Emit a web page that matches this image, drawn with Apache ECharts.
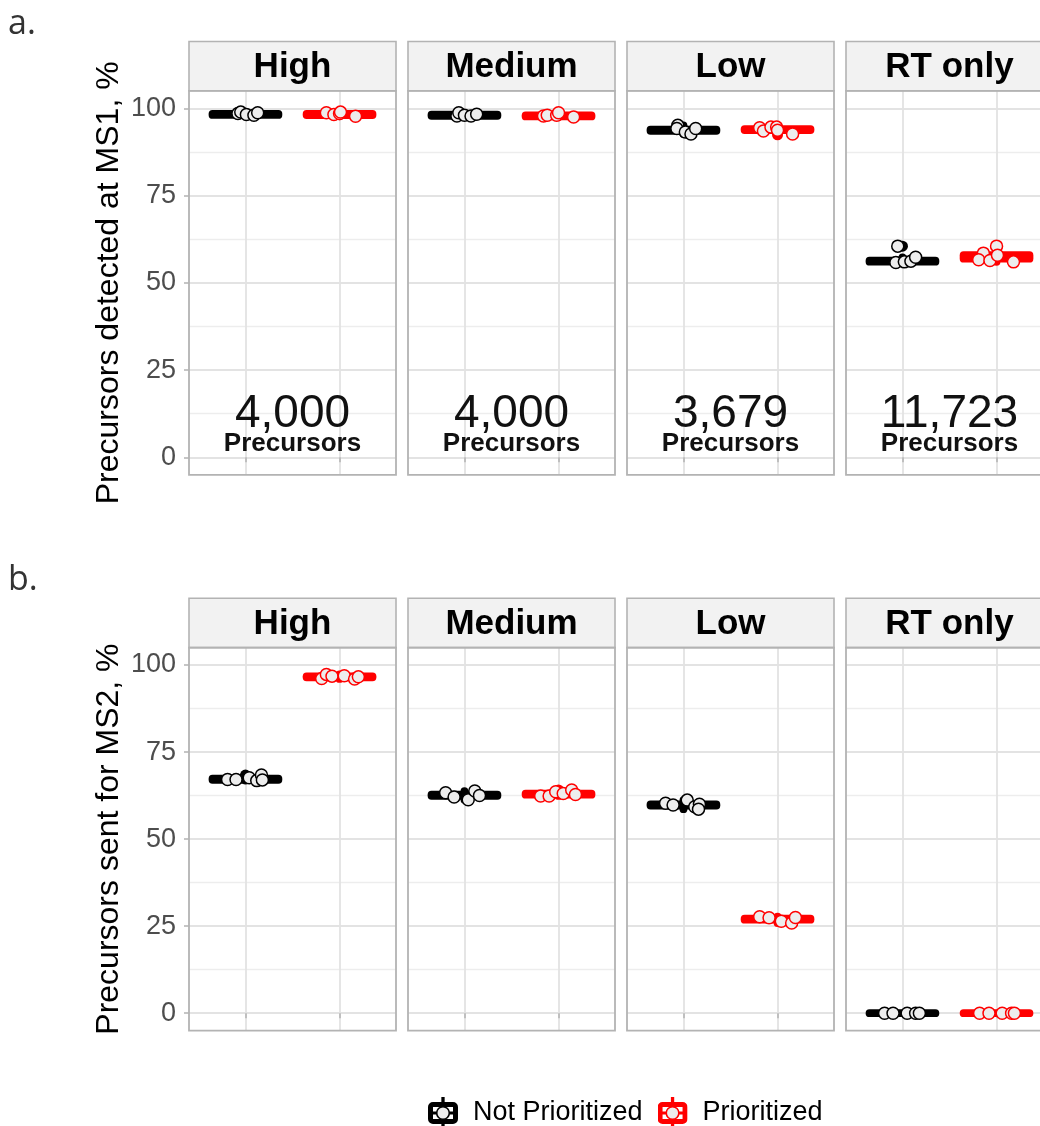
<!DOCTYPE html>
<html>
<head>
<meta charset="utf-8">
<script src="https://cdn.jsdelivr.net/npm/echarts@6.0.0/dist/echarts.min.js"></script>
<style>
html,body{margin:0;padding:0;background:#ffffff;}
#main{width:1040px;height:1126px;}
</style>
</head>
<body>
<div id="main"></div>
<script>
// ---------------- DATA ----------------
const facets = ['High', 'Medium', 'Low', 'RT only'];
const groups = ['Not Prioritized', 'Prioritized'];
const precursorCounts = ['4,000', '4,000', '3,679', '11,723'];
const precursorWord = 'Precursors';
const yTicks = [0, 25, 50, 75, 100];
const yTitles = ['Precursors detected at MS1, %', 'Precursors sent for MS2, %'];
const panelTags = ['a.', 'b.'];

// Panel a: precursors detected at MS1 (%) – replicate values per facet
const ms1NotPrioritized = [
  [98.5, 98.9, 98.2, 98.0, 98.7],
  [97.8, 98.7, 98.0, 97.8, 98.3],
  [95.1, 94.2, 93.2, 92.6, 94.2],
  [60.5, 55.8, 56.0, 56.2, 57.3]
];
const ms1NotPrioritizedJitter = [
  [-0.08, -0.05, 0.01, 0.09, 0.13],
  [-0.08, -0.06, 0.00, 0.07, 0.13],
  [-0.06, -0.07, 0.02, 0.08, 0.13],
  [-0.05, -0.07, 0.02, 0.09, 0.14]
];
const ms1Prioritized = [
  [98.7, 98.2, 98.5, 98.9, 97.7],
  [97.8, 98.0, 98.0, 98.7, 97.5],
  [94.4, 93.5, 94.6, 94.6, 93.7, 92.6],
  [58.5, 56.6, 56.4, 60.5, 57.9, 56.0]
];
const ms1PrioritizedJitter = [
  [-0.14, -0.06, 0.00, 0.01, 0.17],
  [-0.16, -0.12, -0.02, 0.00, 0.16],
  [-0.19, -0.15, -0.07, -0.01, 0.00, 0.16],
  [-0.14, -0.19, -0.07, 0.00, 0.01, 0.18]
];
// box stats: [lower whisker, Q1, median, Q3, upper whisker]
const ms1NotPrioritizedBox = [
  [98.0, 98.1, 98.25, 98.4, 98.9],
  [97.8, 97.85, 98.0, 98.15, 98.7],
  [92.6, 93.55, 93.7, 93.85, 95.1],
  [55.8, 56.05, 56.2, 56.35, 57.3]
];
const ms1PrioritizedBox = [
  [97.7, 98.05, 98.2, 98.35, 98.9],
  [97.5, 97.65, 97.8, 97.95, 98.7],
  [93.5, 93.75, 93.9, 94.05, 94.6],
  [56.0, 56.9, 57.4, 57.9, 60.5]
];
const ms1NotPrioritizedOutliers = [[], [], [], [60.5]];
const ms1PrioritizedOutliers = [[], [], [92.4], []];

// Panel b: precursors sent for MS2 (%)
const ms2NotPrioritized = [
  [67.1, 67.1, 67.6, 66.8, 68.4, 67.0],
  [63.3, 62.1, 61.3, 63.8, 62.5],
  [60.3, 59.8, 61.2, 59.3, 60.0, 58.6],
  [0, 0, 0, 0, 0]
];
const ms2NotPrioritizedJitter = [
  [-0.19, -0.10, 0.04, 0.12, 0.17, 0.18],
  [-0.20, -0.11, 0.04, 0.11, 0.16],
  [-0.19, -0.11, 0.04, 0.12, 0.17, 0.16],
  [-0.19, -0.10, 0.05, 0.14, 0.18]
];
const ms2Prioritized = [
  [96.1, 97.3, 96.8, 96.9, 96.0, 96.6],
  [62.4, 62.4, 63.6, 63.1, 64.1, 62.8],
  [27.7, 27.4, 26.4, 25.9, 27.5],
  [0, 0, 0, 0, 0]
];
const ms2PrioritizedJitter = [
  [-0.19, -0.14, -0.08, 0.05, 0.16, 0.20],
  [-0.19, -0.10, -0.03, 0.05, 0.14, 0.18],
  [-0.19, -0.09, 0.04, 0.15, 0.19],
  [-0.18, -0.08, 0.06, 0.16, 0.19]
];
const ms2NotPrioritizedBox = [
  [66.8, 67.05, 67.2, 67.35, 67.6],
  [61.3, 62.45, 62.6, 62.75, 63.8],
  [58.6, 59.65, 59.8, 59.95, 61.2],
  [0, 0, 0, 0, 0]
];
const ms2PrioritizedBox = [
  [96.0, 96.45, 96.6, 96.75, 97.3],
  [62.4, 62.75, 62.9, 63.05, 63.6],
  [25.9, 26.85, 27.0, 27.15, 27.7],
  [0, 0, 0, 0, 0]
];
const ms2NotPrioritizedOutliers = [[68.4], [], [], []];
const ms2PrioritizedOutliers = [[], [64.1], [], []];

// ---------------- STYLE / LAYOUT ----------------
const FONT = "'Liberation Sans', Arial, Helvetica, sans-serif";
const TAG_FONT = "'Open Sans', 'DejaVu Sans', sans-serif";
const groupColors = ['#000000', '#FF0000'];
const POINT_FILL = '#EDEDED';
const GRID_MAJOR = '#E3E3E3';
const GRID_MINOR = '#EDEDED';
const FRAME = '#B3B3B3';
const STRIP_FILL = '#F2F2F2';
const PANEL_LEFT0 = 189, PANEL_STEP = 219, PANEL_W = 207;
const ROW_LAYOUT = [
  { top: 90.8, height: 384, stripTop: 41.5 },
  { top: 647.6, height: 383, stripTop: 598.3 }
];
const Y_PAD = 5;                 // expansion of the 0..100 scale
const X_MIN = 0.4, X_MAX = 2.6;  // discrete scale expansion
const BOX_HALF = 0.35, BOX_LW = 7.8;
const POINT_SIZE = 12;
const COUNT_Y = 12.4, WORD_Y = 4.0;

const rows = [
  {
    pts: [ms1NotPrioritized, ms1Prioritized],
    jit: [ms1NotPrioritizedJitter, ms1PrioritizedJitter],
    box: [ms1NotPrioritizedBox, ms1PrioritizedBox],
    out: [ms1NotPrioritizedOutliers, ms1PrioritizedOutliers],
    counts: true
  },
  {
    pts: [ms2NotPrioritized, ms2Prioritized],
    jit: [ms2NotPrioritizedJitter, ms2PrioritizedJitter],
    box: [ms2NotPrioritizedBox, ms2PrioritizedBox],
    out: [ms2NotPrioritizedOutliers, ms2PrioritizedOutliers],
    counts: false
  }
];

function legendIcon(color) {
  const svg = '<svg xmlns="http://www.w3.org/2000/svg" width="30" height="32" viewBox="0 0 30 32">' +
    '<line x1="15" y1="0" x2="15" y2="32" stroke="' + color + '" stroke-width="3.3"/>' +
    '<rect x="2.5" y="7.5" width="25" height="17" rx="2.5" ry="2.5" fill="#FFFFFF" stroke="' + color + '" stroke-width="5"/>' +
    '<line x1="2.5" y1="16" x2="27.5" y2="16" stroke="' + color + '" stroke-width="3"/>' +
    '<circle cx="15" cy="16" r="6.3" fill="' + POINT_FILL + '" stroke="' + color + '" stroke-width="1.6"/>' +
    '</svg>';
  return 'image://data:image/svg+xml;charset=utf-8,' + encodeURIComponent(svg);
}

function renderBox(params, api) {
  const x = api.value(0);
  const lo = api.value(1), q1 = api.value(2), med = api.value(3), q3 = api.value(4), hi = api.value(5);
  const tl = api.coord([x - BOX_HALF, q3]);
  const br = api.coord([x + BOX_HALF, q1]);
  const pm = api.coord([x, med]);
  const pl = api.coord([x, lo]);
  const ph = api.coord([x, hi]);
  const color = api.visual('color');
  return {
    type: 'group',
    children: [
      { type: 'line', shape: { x1: pm[0], y1: ph[1], x2: pm[0], y2: tl[1] },
        style: { stroke: color, lineWidth: BOX_LW, lineCap: 'round' } },
      { type: 'line', shape: { x1: pm[0], y1: br[1], x2: pm[0], y2: pl[1] },
        style: { stroke: color, lineWidth: BOX_LW, lineCap: 'round' } },
      { type: 'rect', shape: { x: tl[0], y: tl[1], width: br[0] - tl[0], height: br[1] - tl[1] },
        style: { fill: color, stroke: color, lineWidth: BOX_LW, lineJoin: 'round' } },
      { type: 'line', shape: { x1: tl[0], y1: pm[1], x2: br[0], y2: pm[1] },
        style: { stroke: color, lineWidth: 2 } }
    ]
  };
}

const grids = [], xAxes = [], yAxes = [], series = [], graphics = [];
const yMin = yTicks[0], yMax = yTicks[yTicks.length - 1];
const xUnit = PANEL_W / (X_MAX - X_MIN);

rows.forEach(function (row, r) {
  const L = ROW_LAYOUT[r];
  const unit = L.height / (yMax - yMin + 2 * Y_PAD);

  // tag and y title
  graphics.push({
    type: 'text', x: 8, y: L.stripTop - 17.5, silent: true,
    style: { text: panelTags[r], font: '34px ' + TAG_FONT, fill: '#333333', align: 'left', verticalAlign: 'middle' }
  });
  graphics.push({
    type: 'text', x: 109, y: L.top + L.height / 2, rotation: Math.PI / 2, silent: true,
    style: { text: yTitles[r], font: '32px ' + FONT, fill: '#000000', align: 'center', verticalAlign: 'middle' }
  });

  facets.forEach(function (facet, c) {
    const left = PANEL_LEFT0 + PANEL_STEP * c;
    const hIdx = grids.length;
    grids.push({ left: left, top: L.top + Y_PAD * unit, width: PANEL_W, height: (yMax - yMin) * unit,
      containLabel: false, outerBoundsMode: 'none' });
    const vIdx = grids.length;
    grids.push({ left: left + (1 - X_MIN) * xUnit, top: L.top, width: xUnit * (groups.length - 1), height: L.height,
      containLabel: false, outerBoundsMode: 'none' });

    xAxes.push({ gridIndex: hIdx, type: 'value', min: X_MIN, max: X_MAX, show: false });
    xAxes.push({ gridIndex: vIdx, type: 'value', min: 1, max: groups.length, interval: 1, position: 'bottom',
      axisLine: { show: false }, axisLabel: { show: false },
      axisTick: { show: true, length: 5, lineStyle: { color: FRAME, width: 1.5 } },
      splitLine: { show: true, lineStyle: { color: GRID_MAJOR, width: 1.8 } } });

    yAxes.push({ gridIndex: hIdx, type: 'value', min: yMin, max: yMax, interval: yTicks[1] - yTicks[0], position: 'left',
      axisLine: { show: false },
      axisTick: { show: c === 0, length: 5, lineStyle: { color: FRAME, width: 1.5 } },
      axisLabel: { show: c === 0, fontSize: 27, color: '#4D4D4D', fontFamily: FONT, margin: 13 },
      splitLine: { show: true, lineStyle: { color: GRID_MAJOR, width: 1.8 } },
      minorTick: { show: false, splitNumber: 2 },
      minorSplitLine: { show: true, lineStyle: { color: GRID_MINOR, width: 1.3 } } });
    yAxes.push({ gridIndex: vIdx, type: 'value', min: yMin - Y_PAD, max: yMax + Y_PAD, show: false });

    // outliers (drawn first, like ggplot)
    groups.forEach(function (g, gi) {
      series.push({
        type: 'scatter', name: 'outliers', xAxisIndex: hIdx, yAxisIndex: hIdx, clip: false, silent: true,
        symbol: 'circle', symbolSize: POINT_SIZE - 1,
        itemStyle: { color: groupColors[gi], opacity: 1 },
        data: row.out[gi][c].map(function (v) { return [gi + 1, v]; })
      });
    });

    // boxes
    series.push({
      type: 'custom', name: 'box', xAxisIndex: hIdx, yAxisIndex: hIdx, silent: true,
      renderItem: renderBox,
      encode: { x: 0, y: [1, 2, 3, 4, 5] },
      data: groups.map(function (g, gi) {
        return { value: [gi + 1].concat(row.box[gi][c]), itemStyle: { color: groupColors[gi] } };
      })
    });

    // jittered replicate points
    groups.forEach(function (g, gi) {
      series.push({
        type: 'scatter', name: g, xAxisIndex: hIdx, yAxisIndex: hIdx, clip: false,
        symbol: 'circle', symbolSize: POINT_SIZE,
        itemStyle: { color: POINT_FILL, borderColor: groupColors[gi], borderWidth: 1.5, opacity: 1 },
        data: row.pts[gi][c].map(function (v, k) { return [gi + 1 + row.jit[gi][c][k], v]; })
      });
    });

    // precursor counts
    if (row.counts) {
      const xMid = (1 + groups.length) / 2;
      series.push({
        type: 'scatter', name: 'counts', xAxisIndex: hIdx, yAxisIndex: hIdx, clip: false, silent: true,
        symbolSize: 1, itemStyle: { color: 'rgba(0,0,0,0)', opacity: 1 },
        label: { show: true, position: 'inside', color: '#111111', opacity: 1, fontFamily: FONT,
          textBorderWidth: 0 },
        data: [
          { value: [xMid, COUNT_Y], label: { formatter: precursorCounts[c], fontSize: 46, fontWeight: 'normal' } },
          { value: [xMid, WORD_Y], label: { formatter: precursorWord, fontSize: 26, fontWeight: 'bold' } }
        ]
      });
    }

    // strip + frame
    graphics.push({
      type: 'rect', silent: true, z: 10,
      shape: { x: left, y: L.stripTop, width: PANEL_W, height: L.top - L.stripTop },
      style: { fill: STRIP_FILL, stroke: FRAME, lineWidth: 1.6 }
    });
    graphics.push({
      type: 'text', silent: true, z: 11,
      x: left + PANEL_W / 2, y: (L.stripTop + L.top) / 2 + 1,
      style: { text: facet, font: 'bold 35px ' + FONT, fill: '#000000', align: 'center', verticalAlign: 'middle' }
    });
    graphics.push({
      type: 'rect', silent: true, z: 10,
      shape: { x: left, y: L.top, width: PANEL_W, height: L.height },
      style: { fill: 'none', stroke: FRAME, lineWidth: 1.8 }
    });
  });
});

const chart = echarts.init(document.getElementById('main'), null, { renderer: 'canvas' });
chart.setOption({
  backgroundColor: '#ffffff',
  animation: false,
  grid: grids,
  xAxis: xAxes,
  yAxis: yAxes,
  legend: {
    data: [
      { name: groups[0], icon: legendIcon(groupColors[0]) },
      { name: groups[1], icon: legendIcon(groupColors[1]) }
    ],
    left: 428, top: 1097, orient: 'horizontal', padding: 0,
    itemWidth: 30, itemHeight: 32, itemGap: 15, selectedMode: false,
    textStyle: { fontSize: 27, color: '#000000', fontFamily: FONT, padding: [0, 0, 0, 10] }
  },
  graphic: graphics,
  series: series
});
</script>
</body>
</html>
